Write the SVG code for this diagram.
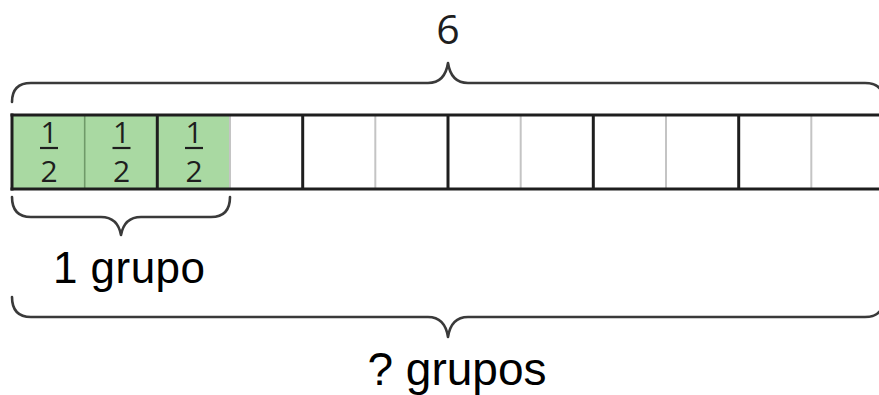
<svg xmlns="http://www.w3.org/2000/svg" width="879" height="395" viewBox="0 0 879 395">
  <style>
    .brace { fill: none; stroke: #3a3a3a; stroke-width: 2.6; stroke-linejoin: round; stroke-linecap: round; }
    .major { stroke: #1e1e1e; stroke-width: 3; }
    .minor { stroke: #c4c4c4; stroke-width: 2; }
    .minor-g { stroke: #6f9a69; stroke-width: 1.6; }
    .frac { font-family: "Open Sans", "DejaVu Sans", sans-serif; font-size: 30px; fill: #1e1e1e; text-anchor: middle; }
    .fbar { stroke: #1e1e1e; stroke-width: 2.2; }
    .label { font-family: "Liberation Sans", Arial, sans-serif; fill: #000; }
  </style>
  <rect width="879" height="395" fill="#ffffff"/>

  <!-- total label and top brace -->
  <g id="total">
    <text x="448" y="44" style="font-family:'Open Sans','DejaVu Sans',sans-serif;font-size:41px;fill:#1e1e1e;text-anchor:middle">6</text>
    <path class="brace" d="M12,102 Q12,83 31,83 L428,83 C440,83 446,76 448,63 C450,76 456,83 468,83 L865,83 Q884,83 884,102"/>
  </g>

  <!-- tape of twelve halves -->
  <g id="tape">
    <rect x="12" y="115" width="218" height="74" fill="#a9d9a2"/>
    <g class="minor">
      <line x1="230" y1="115" x2="230" y2="189"/>
      <line x1="375.3" y1="115" x2="375.3" y2="189"/>
      <line x1="520.7" y1="115" x2="520.7" y2="189"/>
      <line x1="666" y1="115" x2="666" y2="189"/>
      <line x1="811.3" y1="115" x2="811.3" y2="189"/>
    </g>
    <line x1="84.7" y1="115" x2="84.7" y2="189" class="minor-g"/>
    <g class="major">
      <line x1="157.3" y1="115" x2="157.3" y2="189"/>
      <line x1="302.7" y1="115" x2="302.7" y2="189"/>
      <line x1="448" y1="115" x2="448" y2="189"/>
      <line x1="593.3" y1="115" x2="593.3" y2="189"/>
      <line x1="738.7" y1="115" x2="738.7" y2="189"/>
      <line x1="12" y1="113.5" x2="12" y2="190.5"/>
      <line x1="10.5" y1="115" x2="884" y2="115"/>
      <line x1="10.5" y1="189" x2="884" y2="189"/>
    </g>
    <!-- one half in each shaded cell -->
    <g id="half-1">
      <text class="frac" x="49" y="143">1</text>
      <line class="fbar" x1="40" y1="148" x2="58" y2="148"/>
      <text class="frac" x="49" y="182">2</text>
    </g>
    <g id="half-2">
      <text class="frac" x="121.5" y="143">1</text>
      <line class="fbar" x1="112.5" y1="148" x2="130.5" y2="148"/>
      <text class="frac" x="121.5" y="182">2</text>
    </g>
    <g id="half-3">
      <text class="frac" x="194" y="143">1</text>
      <line class="fbar" x1="185" y1="148" x2="203" y2="148"/>
      <text class="frac" x="194" y="182">2</text>
    </g>
  </g>

  <!-- one group brace -->
  <g id="one-group">
    <path class="brace" d="M12,197 Q12,217 31,217 L101,217 C113,217 119,224 121,235 C123,224 129,217 141,217 L211,217 Q230,217 230,197"/>
    <text class="label" x="53" y="283" style="font-size:44px" textLength="152">1 grupo</text>
  </g>

  <!-- unknown number of groups -->
  <g id="groups">
    <path class="brace" d="M12,297 Q12,317 31,317 L428,317 C440,317 446,324 448,337 C450,324 456,317 468,317 L865,317 Q884,317 884,297"/>
    <text class="label" x="457" y="385" style="font-size:46px;text-anchor:middle">? grupos</text>
  </g>
</svg>
